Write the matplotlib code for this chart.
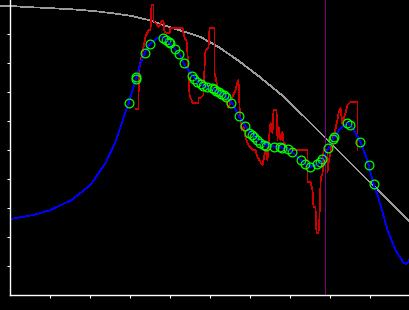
import numpy as np
import matplotlib
matplotlib.use("Agg")
import matplotlib.pyplot as plt

# ==========================================
# data (x: 0..400, y: 0..295)
# ==========================================
gray_x = [-10, 0, 16, 43, 61, 74, 86, 94, 103, 110, 117, 123, 140, 160, 175, 190,
          208, 227, 248, 270, 293, 317, 358, 400]
gray_y = [289, 289, 288, 286.7, 285.7, 284.7, 283.7, 282.7, 281.7, 280.7, 279.7, 278.7,
          274.5, 267.5, 263, 258, 248, 235, 219, 201, 179, 155, 114, 73]

fit_x = [0, 23, 40, 61, 80, 95, 105, 114, 118, 122, 126, 130, 134, 139, 147, 153,
         158, 164, 169, 173, 182, 190, 197, 205, 213, 222, 228, 235, 243, 252, 260,
         270, 277, 282, 290, 300, 307, 312, 318, 323, 330, 337, 340, 345, 350, 355,
         358, 363, 368, 377, 385, 393, 396, 400]
fit_y = [76, 80, 85, 95, 110, 132, 153, 180, 192, 205, 218, 232, 242, 251, 257, 258,
         253, 246, 241, 232, 219, 212, 207, 204, 200, 192, 179, 169, 160, 153, 149,
         148, 146, 143, 135, 128, 131, 135, 147, 157, 167, 172, 170, 162, 153, 140,
         130, 111, 97, 65, 45, 32, 31, 37]

pts_x = [118.3, 126, 126, 134.3, 139.3, 152.3, 155.7, 158.3, 160, 164.3, 168.7, 173.3,
         181.7, 184, 186.7, 191, 193, 196.7, 201.7, 203.3, 206, 208.3, 210.7, 213.3,
         216, 220.7, 228.7, 234.3, 239, 241.7, 244, 246.7, 250, 253.3, 256, 263.3,
         270, 272, 277.3, 281.7, 290.7, 294.2, 300, 306.5, 309.5, 311.5, 318, 322.7,
         324, 336.7, 340, 350, 358.3, 363.3]
pts_y = [191.7, 218.5, 216.5, 241.7, 251, 257.3, 255, 253.3, 252.3, 246, 241, 231.7,
         219, 216, 213.3, 210.7, 209.5, 207.7, 206.7, 205.7, 204.3, 202.7, 201, 199.7,
         197.7, 191.7, 179, 169, 162.3, 160, 157.7, 155, 152.3, 150, 149, 147.7,
         147.7, 147, 146.3, 143.5, 135, 130.8, 128.5, 131, 133.5, 136, 147.5, 156,
         158, 171.7, 170, 152.7, 130, 111]

raw_x = [125, 128, 128, 129, 131, 135, 138, 140, 141, 143, 143, 146, 148, 150, 151, 153,
         154, 157, 159, 160, 172, 173, 175, 176, 177, 179, 182, 188, 188, 190, 193,
         193, 195, 198, 199, 204, 204, 205, 207, 208, 215, 216, 218, 222, 225, 227,
         228, 229, 231, 233, 235, 237, 238, 242, 245, 247, 250, 252, 255, 257, 258,
         260, 262, 263, 266, 267, 268, 270, 272, 273, 275, 277, 297, 297, 300, 302,
         303, 305, 306, 308, 309, 310, 311, 312, 313, 315, 317, 317, 318, 320, 322,
         324, 327, 328, 330, 332, 333, 335, 337, 340, 347, 347]
raw_y = [186, 186, 199, 228, 238, 258, 265, 265, 290, 290, 274, 271, 268, 271, 274, 274,
         263, 262, 262, 267, 267, 262, 255, 255, 242, 200, 192, 192, 197, 197, 200,
         208, 245, 247, 267, 267, 222, 218, 207, 200, 200, 193, 187, 198, 205, 213,
         215, 188, 165, 168, 158, 152, 150, 145, 145, 138, 133, 130, 145, 135, 152,
         172, 162, 185, 185, 155, 168, 155, 163, 153, 150, 145, 145, 113, 113, 105,
         88, 88, 62, 62, 78, 112, 120, 120, 145, 145, 145, 123, 132, 143, 155,
         162, 175, 182, 187, 170, 175, 182, 190, 193, 193, 145]

xticks = [40, 80, 120, 160, 200, 240, 280, 320, 360]
yticks = [29, 58, 87, 116, 145, 174, 203, 232, 261]
marker_line = 315

# ==========================================
# plot
# ==========================================
fig = plt.figure(figsize=(4.1, 3.1), dpi=100, facecolor="black")
ax = fig.add_axes([10.5 / 410, 15 / 310, 400 / 410, 295 / 310])
ax.set_facecolor("black")

ax.plot(gray_x, gray_y, color="#9a9a9a", lw=0.5, antialiased=False, clip_on=False)
ax.axvline(marker_line, color="#800080", lw=0.5, antialiased=False)
ax.plot(raw_x, raw_y, color="#cc0000", lw=0.5, antialiased=False)
ax.plot(fit_x, fit_y, color="#0000ff", lw=0.5, antialiased=False)
ax.plot(pts_x, pts_y, "o", ms=6.3, mfc="none", mec="#00ff00", mew=0.9)
ax.plot(pts_x, pts_y, "s", ms=1.2, color="#0000ff", mew=0)

ax.set_xlim(0, 400)
ax.set_ylim(0, 295)
ax.set_xticks(xticks)
ax.set_yticks(yticks)
ax.set_xticklabels([])
ax.set_yticklabels([])
ax.tick_params(colors="white", direction="out", length=2.2, width=0.75)
for side in ["top", "right"]:
    ax.spines[side].set_visible(False)
for side in ["left", "bottom"]:
    ax.spines[side].set_color("white")
    ax.spines[side].set_linewidth(1)

plt.savefig("out.png", dpi=100, facecolor="black")
